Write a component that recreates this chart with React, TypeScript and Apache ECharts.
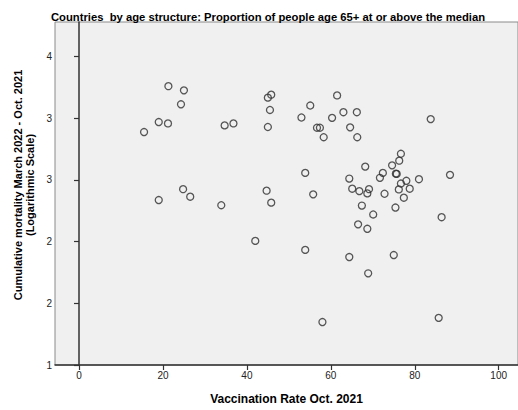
import React, { useEffect, useRef } from "react";
import * as echarts from "echarts";

const vaccinationRate: number[] = [
  15.5, 19.0, 21.2, 21.3, 25.0, 24.3, 34.7, 36.8, 45.0, 45.8, 45.5, 45.0,
  53.0, 55.1, 61.5, 60.3, 63.0, 66.2, 56.7, 57.4, 64.6, 58.3, 66.3, 83.8,
  76.7, 76.3, 68.2, 74.6, 72.4, 71.7, 75.5, 75.7, 64.4, 76.7, 78.0, 81.0,
  88.4, 65.1, 66.8, 69.1, 68.7, 72.8, 76.2, 78.8, 77.4, 67.4, 75.4, 70.1,
  86.4, 66.5, 68.7, 53.9, 64.4, 75.0, 68.9, 58.0, 85.7, 19.0, 24.8, 26.5,
  33.9, 44.7, 45.8, 42.0, 53.9, 55.8,
];

const logMortality: number[] = [
  2.888, 2.969, 2.958, 3.26, 3.226, 3.113, 2.942, 2.958, 3.167, 3.191, 3.067, 2.929,
  3.006, 3.103, 3.185, 3.003, 3.049, 3.049, 2.923, 2.923, 2.926, 2.846, 2.846, 2.993,
  2.712, 2.656, 2.608, 2.618, 2.557, 2.517, 2.551, 2.549, 2.511, 2.471, 2.493, 2.506,
  2.541, 2.429, 2.409, 2.425, 2.391, 2.388, 2.423, 2.429, 2.356, 2.292, 2.276, 2.22,
  2.198, 2.14, 2.104, 1.933, 1.875, 1.891, 1.743, 1.348, 1.382, 2.337, 2.425, 2.364,
  2.295, 2.413, 2.316, 2.006, 2.557, 2.383,
];

const xTicks: number[] = [0, 20, 40, 60, 80, 100];
const yTicks: number[] = [1, 1.5, 2, 2.5, 3, 3.5];

const titleText = "Countries  by age structure: Proportion of people age 65+ at or above the median";
const xName = "Vaccination Rate Oct. 2021";
const yName = "Cumulative mortality March 2022 - Oct. 2021\n(Logarithmic Scale)";

const FONT = "'Liberation Sans', Arial, sans-serif";

export default function App() {
  const ref = useRef<HTMLDivElement>(null);
  useEffect(() => {
    if (!ref.current) return;
    const chart = echarts.init(ref.current, undefined, { renderer: "svg" });
    const points = vaccinationRate.map((v, i) => [v, logMortality[i]]);
    chart.setOption({
      animation: false,
      backgroundColor: "#ffffff",
      textStyle: { fontFamily: FONT },
      title: {
        text: titleText,
        left: 263,
        top: 6,
        textAlign: "center",
        textStyle: { fontSize: 11.25, fontWeight: "bold", color: "#000", fontFamily: FONT },
      },
      grid: {
        left: 55,
        right: 0,
        top: 22,
        bottom: 42,
        show: true,
        backgroundColor: "#f0f0f0",
        borderColor: "#8a8a8a",
        borderWidth: 1,
      },
      xAxis: {
        type: "value",
        min: -5.72,
        max: 104.6,
        name: xName,
        nameLocation: "middle",
        nameGap: 28,
        nameTextStyle: { fontSize: 12, fontWeight: "bold", color: "#000", fontFamily: FONT },
        axisLine: { show: true, lineStyle: { color: "#333", width: 1.5 } },
        axisTick: { show: true, customValues: xTicks, length: 5, lineStyle: { color: "#333", width: 1.2 } },
        axisLabel: { customValues: xTicks, fontSize: 10, color: "#222", margin: 5, fontFamily: FONT },
        splitLine: { show: false },
      },
      yAxis: {
        type: "value",
        min: 1,
        max: 3.78,
        axisLine: { show: true, lineStyle: { color: "#333", width: 1.5 } },
        axisTick: { show: true, customValues: yTicks, length: 5, lineStyle: { color: "#333", width: 1.2 } },
        axisLabel: {
          customValues: yTicks,
          fontSize: 10,
          color: "#222",
          margin: 3,
          fontFamily: FONT,
          formatter: (v: number) => String(Math.round(v)),
        },
        splitLine: { show: false },
      },
      graphic: [
        {
          type: "text",
          x: 24,
          y: 185,
          rotation: Math.PI / 2,
          style: {
            text: yName,
            fontSize: 11,
            fontWeight: "bold",
            fontFamily: FONT,
            fill: "#000",
            align: "center",
            verticalAlign: "middle",
            lineHeight: 12,
          },
        },
      ],
      series: [
        {
          type: "scatter",
          data: points,
          symbol: "circle",
          symbolSize: 7,
          itemStyle: { color: "rgba(0,0,0,0)", borderColor: "#2e2e2e", borderWidth: 1.3 },
        },
      ],
    });
    return () => chart.dispose();
  }, []);
  return (
    <div
      ref={ref}
      style={{ position: "absolute", left: 0, top: 0, width: 518, height: 410 }}
    />
  );
}
